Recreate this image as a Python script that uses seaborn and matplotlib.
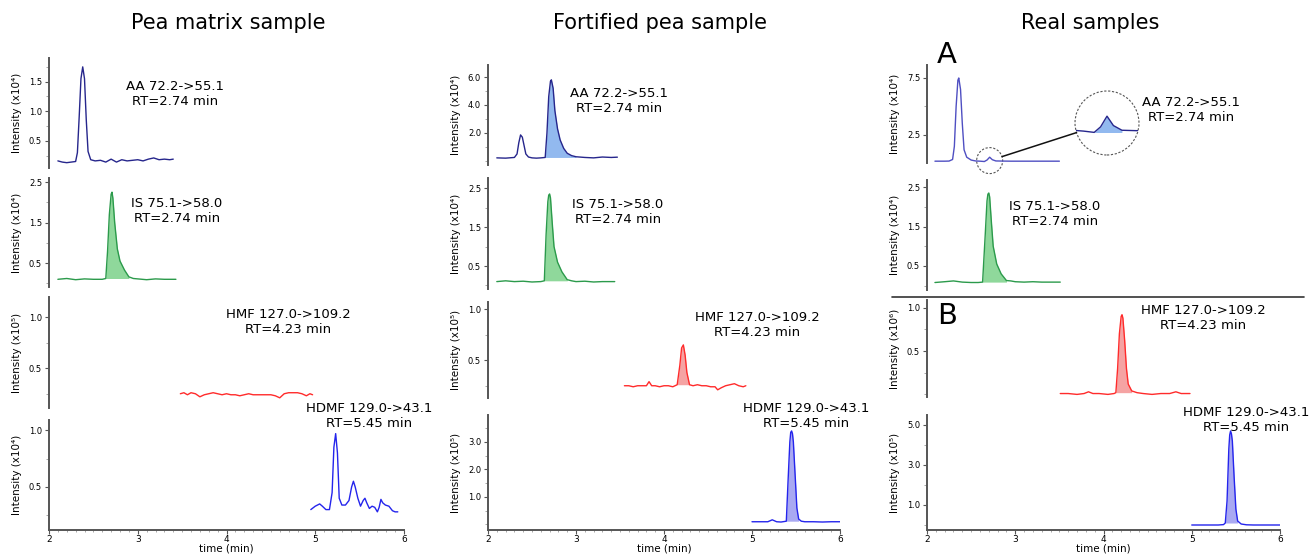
import numpy as np
import matplotlib
matplotlib.use("Agg")
import matplotlib.pyplot as plt
from matplotlib.patches import Circle, Ellipse, ConnectionPatch
from matplotlib.lines import Line2D
from matplotlib.ticker import MultipleLocator, FixedLocator, FormatStrFormatter
import seaborn as sns

sns.set_style("ticks")
plt.rcParams["font.family"] = ["DejaVu Sans"]
plt.rcParams["text.color"] = "black"
plt.rcParams["axes.labelcolor"] = "black"
plt.rcParams["xtick.labelcolor"] = "black"
plt.rcParams["ytick.labelcolor"] = "black"

# ---------- chromatogram traces (time in min, intensity) ----------

# Pea matrix sample
pea_aa_t = [2.10, 2.15, 2.20, 2.25, 2.30, 2.32, 2.34, 2.36, 2.38, 2.40, 2.42, 2.44, 2.47, 2.52, 2.58,
            2.64, 2.70, 2.76, 2.82, 2.88, 2.94, 3.00, 3.06, 3.12, 3.18, 3.24, 3.30, 3.36, 3.40]
pea_aa_i = [0.16, 0.14, 0.13, 0.14, 0.15, 0.30, 0.90, 1.55, 1.75, 1.55, 0.85, 0.32, 0.18, 0.16, 0.17,
            0.14, 0.19, 0.14, 0.18, 0.16, 0.17, 0.18, 0.16, 0.19, 0.21, 0.18, 0.19, 0.18, 0.19]

pea_is_t = [2.10, 2.20, 2.30, 2.40, 2.50, 2.60, 2.64, 2.66, 2.68, 2.70, 2.71, 2.72, 2.74, 2.77, 2.80, 2.85,
            2.90, 2.95, 3.00, 3.10, 3.20, 3.30, 3.43]
pea_is_i = [0.10, 0.12, 0.09, 0.11, 0.10, 0.10, 0.12, 0.80, 1.70, 2.20, 2.25, 2.10, 1.50, 0.85, 0.55, 0.33,
            0.16, 0.12, 0.11, 0.09, 0.11, 0.10, 0.10]

pea_hmf_t = [3.48, 3.52, 3.56, 3.60, 3.65, 3.70, 3.75, 3.80, 3.85, 3.90, 3.95, 4.00, 4.05, 4.10, 4.15, 4.20,
             4.25, 4.30, 4.35, 4.40, 4.45, 4.50, 4.55, 4.60, 4.65, 4.70, 4.75, 4.80, 4.85, 4.90, 4.94, 4.97]
pea_hmf_i = [0.25, 0.26, 0.24, 0.26, 0.25, 0.22, 0.24, 0.25, 0.26, 0.25, 0.24, 0.25, 0.24, 0.24, 0.23, 0.24,
             0.25, 0.24, 0.24, 0.24, 0.24, 0.24, 0.23, 0.21, 0.25, 0.26, 0.26, 0.26, 0.25, 0.23, 0.25, 0.24]

pea_hdmf_t = [4.95, 5.00, 5.05, 5.08, 5.12, 5.16, 5.19, 5.21, 5.23, 5.25, 5.27, 5.30, 5.34, 5.38, 5.41, 5.43,
              5.45, 5.48, 5.51, 5.54, 5.56, 5.58, 5.61, 5.64, 5.67, 5.70, 5.72, 5.74, 5.76, 5.79, 5.83, 5.87,
              5.90, 5.93]
pea_hdmf_i = [0.30, 0.33, 0.35, 0.33, 0.30, 0.30, 0.45, 0.85, 0.97, 0.80, 0.40, 0.34, 0.34, 0.38, 0.50, 0.55,
              0.50, 0.40, 0.33, 0.38, 0.40, 0.36, 0.31, 0.33, 0.32, 0.28, 0.32, 0.39, 0.36, 0.34, 0.33, 0.29,
              0.28, 0.28]

# Fortified pea sample
fort_aa_t = [2.10, 2.20, 2.30, 2.33, 2.35, 2.37, 2.39, 2.41, 2.43, 2.46, 2.50, 2.55, 2.60, 2.65, 2.67, 2.69,
             2.71, 2.72, 2.74, 2.76, 2.79, 2.82, 2.86, 2.90, 2.95, 3.00, 3.10, 3.20, 3.30, 3.40, 3.47]
fort_aa_i = [0.22, 0.20, 0.25, 0.50, 1.30, 1.86, 1.70, 1.10, 0.50, 0.28, 0.22, 0.20, 0.22, 0.25, 2.00, 4.60,
             5.70, 5.80, 5.20, 3.60, 2.30, 1.50, 0.90, 0.55, 0.38, 0.30, 0.25, 0.22, 0.28, 0.25, 0.27]

fort_is_t = [2.10, 2.20, 2.30, 2.40, 2.50, 2.60, 2.64, 2.66, 2.68, 2.69, 2.70, 2.71, 2.73, 2.75, 2.79, 2.84,
             2.90, 2.95, 3.00, 3.10, 3.20, 3.30, 3.44]
fort_is_i = [0.10, 0.12, 0.10, 0.11, 0.09, 0.10, 0.12, 1.30, 2.15, 2.32, 2.35, 2.25, 1.60, 1.00, 0.60, 0.35,
             0.15, 0.12, 0.10, 0.11, 0.09, 0.10, 0.10]

fort_hmf_t = [3.55, 3.60, 3.65, 3.70, 3.75, 3.80, 3.83, 3.86, 3.90, 3.95, 4.00, 4.05, 4.10, 4.15, 4.18, 4.20,
              4.22, 4.24, 4.26, 4.29, 4.33, 4.38, 4.43, 4.48, 4.53, 4.58, 4.61, 4.65, 4.70, 4.75, 4.80, 4.85,
              4.90, 4.93]
fort_hmf_i = [0.25, 0.25, 0.24, 0.25, 0.25, 0.25, 0.29, 0.25, 0.25, 0.24, 0.25, 0.25, 0.24, 0.26, 0.45, 0.62,
              0.65, 0.55, 0.38, 0.26, 0.25, 0.26, 0.25, 0.25, 0.24, 0.24, 0.21, 0.23, 0.25, 0.26, 0.27, 0.25,
              0.24, 0.25]

fort_hdmf_t = [5.00, 5.10, 5.18, 5.23, 5.28, 5.33, 5.39, 5.41, 5.43, 5.44, 5.45, 5.46, 5.47, 5.49, 5.51,
               5.53, 5.56, 5.60, 5.70, 5.80, 5.90, 6.00]
fort_hdmf_i = [0.10, 0.10, 0.10, 0.17, 0.10, 0.09, 0.12, 1.60, 3.00, 3.35, 3.40, 3.30, 3.00, 1.80, 0.60,
               0.20, 0.12, 0.10, 0.10, 0.09, 0.10, 0.10]

# Real samples
real_aa_t = [2.09, 2.15, 2.20, 2.25, 2.29, 2.31, 2.33, 2.35, 2.36, 2.38, 2.40, 2.42, 2.45, 2.50, 2.55,
             2.60, 2.65, 2.68, 2.71, 2.74, 2.78, 2.85, 2.95, 3.05, 3.15, 3.25, 3.35, 3.50]
real_aa_i = [0.20, 0.20, 0.20, 0.21, 0.35, 1.50, 5.00, 7.30, 7.50, 6.50, 3.50, 1.20, 0.55, 0.30, 0.22,
             0.20, 0.17, 0.30, 0.55, 0.33, 0.22, 0.21, 0.20, 0.20, 0.20, 0.20, 0.20, 0.20]

real_is_t = [2.09, 2.20, 2.30, 2.40, 2.50, 2.58, 2.63, 2.66, 2.68, 2.69, 2.70, 2.71, 2.73, 2.75, 2.79,
             2.84, 2.90, 2.95, 3.00, 3.10, 3.20, 3.30, 3.51]
real_is_i = [0.08, 0.10, 0.12, 0.09, 0.08, 0.08, 0.09, 1.30, 2.15, 2.32, 2.35, 2.25, 1.60, 1.00, 0.55,
             0.30, 0.13, 0.12, 0.10, 0.09, 0.10, 0.09, 0.09]

real_hmf_t = [3.51, 3.60, 3.70, 3.78, 3.83, 3.88, 3.95, 4.05, 4.12, 4.14, 4.16, 4.18, 4.20, 4.21, 4.22,
              4.24, 4.26, 4.28, 4.32, 4.38, 4.45, 4.55, 4.65, 4.75, 4.82, 4.88, 4.98]
real_hmf_i = [0.01, 0.01, 0.00, 0.01, 0.03, 0.01, 0.01, 0.00, 0.01, 0.02, 0.30, 0.70, 0.90, 0.92, 0.88,
              0.62, 0.30, 0.12, 0.04, 0.02, 0.01, 0.00, 0.01, 0.01, 0.03, 0.01, 0.01]

real_hdmf_t = [5.00, 5.10, 5.20, 5.30, 5.36, 5.38, 5.40, 5.42, 5.43, 5.44, 5.45, 5.46, 5.48, 5.50, 5.52,
               5.56, 5.62, 5.70, 5.80, 5.90, 6.00]
real_hdmf_i = [0.00, 0.00, 0.00, 0.00, 0.02, 0.10, 1.20, 3.80, 4.50, 4.70, 4.55, 4.20, 2.40, 0.80, 0.20,
               0.05, 0.01, 0.00, 0.00, 0.00, 0.00]

col_titles = ["Pea matrix sample", "Fortified pea sample", "Real samples"]
aa_text = "AA 72.2->55.1\nRT=2.74 min"
is_text = "IS 75.1->58.0\nRT=2.74 min"
hmf_text = "HMF 127.0->109.2\nRT=4.23 min"
hdmf_text = "HDMF 129.0->43.1\nRT=5.45 min"
x_ticks = [2, 3, 4, 5, 6]

# ---------- layout helpers (pixel based) ----------

W, H = 1311, 554
fig = plt.figure(figsize=(W / 100, H / 100), dpi=100)


def px_axes(left, right, top, bottom):
    return fig.add_axes([left / W, 1 - bottom / H, (right - left) / W, (bottom - top) / H])


def px_text(x, y, s, **kw):
    return fig.text(x / W, 1 - y / H, s, **kw)


navy = "#26268c"
light_navy = "#4f4fc2"
aa_fill = "#92b9ef"
green, green_fill = "#2b9a4b", "#8fd89b"
red, red_fill = "#ff2b2b", "#f5a3a3"
blue, blue_fill = "#2424ec", "#a9a9f2"

cols_x = [(49, 404), (488, 840), (927, 1280)]

panels = [
    # col, row box (top, bottom), t, i, color, fill, fill range, ylim, yticks, ylabel, text, text pos
    (0, (58, 168), pea_aa_t, pea_aa_i, navy, None, None, (0.04, 1.9), [0.5, 1.0, 1.5], "⁴", aa_text, (175, 94)),
    (0, (178, 287), pea_is_t, pea_is_i, green, green_fill, (2.64, 2.90), (-0.09, 2.6), [0.5, 1.5, 2.5], "⁴", is_text, (177, 211)),
    (0, (297, 408), pea_hmf_t, pea_hmf_i, red, None, None, (0.11, 1.2), [0.5, 1.0], "⁵", hmf_text, (288, 322)),
    (0, (420, 530), pea_hdmf_t, pea_hdmf_i, blue, None, None, (0.12, 1.09), [0.5, 1.0], "⁴", hdmf_text, (369, 416)),
    (1, (65, 165), fort_aa_t, fort_aa_i, navy, aa_fill, (2.65, 3.00), (-0.29, 6.86), [2.0, 4.0, 6.0], "⁴", aa_text, (619, 101)),
    (1, (178, 289), fort_is_t, fort_is_i, green, green_fill, (2.64, 2.90), (-0.09, 2.76), [0.5, 1.5, 2.5], "⁴", is_text, (618, 212)),
    (1, (302, 398), fort_hmf_t, fort_hmf_i, red, red_fill, (4.15, 4.29), (0.13, 1.07), [0.5, 1.0], "⁵", hmf_text, (757, 325)),
    (1, (415, 530), fort_hdmf_t, fort_hdmf_i, blue, blue_fill, (5.39, 5.53), (-0.2, 3.98), [1.0, 2.0, 3.0], "⁵", hdmf_text, (806, 416)),
    (2, (65, 163), real_aa_t, real_aa_i, light_navy, None, None, (0.04, 8.64), [2.5, 7.5], "⁴", aa_text, (1191, 110)),
    (2, (180, 290), real_is_t, real_is_i, green, green_fill, (2.63, 2.90), (-0.11, 2.68), [0.5, 1.5, 2.5], "⁴", is_text, (1055, 214)),
    (2, (300, 397), real_hmf_t, real_hmf_i, red, red_fill, (4.14, 4.32), (-0.03, 1.09), [0.5, 1.0], "⁶", hmf_text, (1203, 318)),
    (2, (415, 530), real_hdmf_t, real_hdmf_i, blue, blue_fill, (5.38, 5.52), (-0.25, 5.5), [1.0, 3.0, 5.0], "⁵", hdmf_text, (1246, 420)),
]

axes = {}
for col, (top, bottom), t, inten, color, fcolor, frange, ylim, yticks, exp, label, tpos in panels:
    left, right = cols_x[col]
    ax = px_axes(left, right, top, bottom)
    t = np.asarray(t)
    inten = np.asarray(inten)
    sns.lineplot(x=t, y=inten, ax=ax, color=color, lw=1.0)
    if fcolor is not None:
        m = (t >= frange[0]) & (t <= frange[1])
        ax.fill_between(t[m], inten[m], inten[m][0], color=fcolor, lw=0, zorder=1)
    ax.set_xlim(2, 6)
    ax.set_ylim(*ylim)
    ax.yaxis.set_major_locator(FixedLocator(yticks))
    ax.yaxis.set_major_formatter(FormatStrFormatter("%.1f"))
    step = yticks[1] - yticks[0]
    ax.yaxis.set_minor_locator(MultipleLocator(step / 2))
    ax.tick_params(axis="y", which="major", labelsize=6, length=3, width=0.8, pad=2, color="#555")
    ax.tick_params(axis="y", which="minor", length=2, width=0.6, color="#999")
    ax.set_ylabel("Intensity (x10" + exp + ")", fontsize=7.5)
    ax.yaxis.set_label_coords(-27 / (right - left), 0.5)
    for s in ["top", "right"]:
        ax.spines[s].set_visible(False)
    ax.spines["left"].set_color("#555")
    ax.spines["left"].set_linewidth(1.4)
    if bottom == 530:
        ax.spines["bottom"].set_color("#555")
        ax.spines["bottom"].set_linewidth(1.4)
        ax.xaxis.set_major_locator(FixedLocator(x_ticks))
        ax.xaxis.set_minor_locator(MultipleLocator(0.1))
        ax.tick_params(axis="x", which="major", labelsize=6.5, length=3, width=0.8, pad=0.5, color="#555")
        ax.tick_params(axis="x", which="minor", length=1.5, width=0.6, color="#999")
        ax.set_xlabel("time (min)", fontsize=7.5, labelpad=0)
    else:
        ax.spines["bottom"].set_visible(False)
        ax.set_xticks([])
        ax.set_xlabel("")
    px_text(tpos[0], tpos[1], label, ha="center", va="center", fontsize=9.5, linespacing=1.15)
    axes[(col, top)] = ax

# column titles
for title, cx in zip(col_titles, [228, 660, 1090]):
    px_text(cx, 23, title, ha="center", va="center", fontsize=15)

# panel letters and separator in the "Real samples" column
px_text(947, 55, "A", ha="center", va="center", fontsize=21)
px_text(947, 316, "B", ha="center", va="center", fontsize=21)
fig.add_artist(Line2D([892 / W, 1304 / W], [1 - 297 / H, 1 - 297 / H], transform=fig.transFigure,
                      color="#333", lw=1.2))

# zoomed view of the small AA peak in the real sample
ax_aa = axes[(2, 65)]
ax_in = px_axes(1075, 1139, 91, 155)
ax_in.set_axis_off()
ax_in.set_xlim(2.56, 2.86)
ax_in.set_ylim(-0.36, 1.14)
rt = np.asarray(real_aa_t)
ri = np.asarray(real_aa_i)
ring = Circle((0.5, 0.5), 0.5, transform=ax_in.transAxes, fill=False, ec="#555",
              ls=(0, (2, 1.5)), lw=0.8, clip_on=False)
ax_in.add_patch(ring)
sns.lineplot(x=rt, y=ri, ax=ax_in, color=navy, lw=1.0)
m = (rt >= 2.65) & (rt <= 2.78)
fill = ax_in.fill_between(rt[m], ri[m], ri[m][0], color=aa_fill, lw=0, zorder=1)
ax_in.lines[0].set_clip_path(ring)
fill.set_clip_path(ring)

small = Ellipse((2.71, 0.25), width=26 / 88.25, height=26 / 11.4, fill=False, ec="#555",
                ls=(0, (2, 1.5)), lw=0.8, clip_on=False)
ax_aa.add_patch(small)
con = ConnectionPatch(xyA=(2.85, 0.6), coordsA="data", axesA=ax_aa,
                      xyB=(0.024, 0.35), coordsB="axes fraction", axesB=ax_in,
                      color="#111", lw=1.1)
fig.add_artist(con)

fig.savefig("out.png", dpi=100)
